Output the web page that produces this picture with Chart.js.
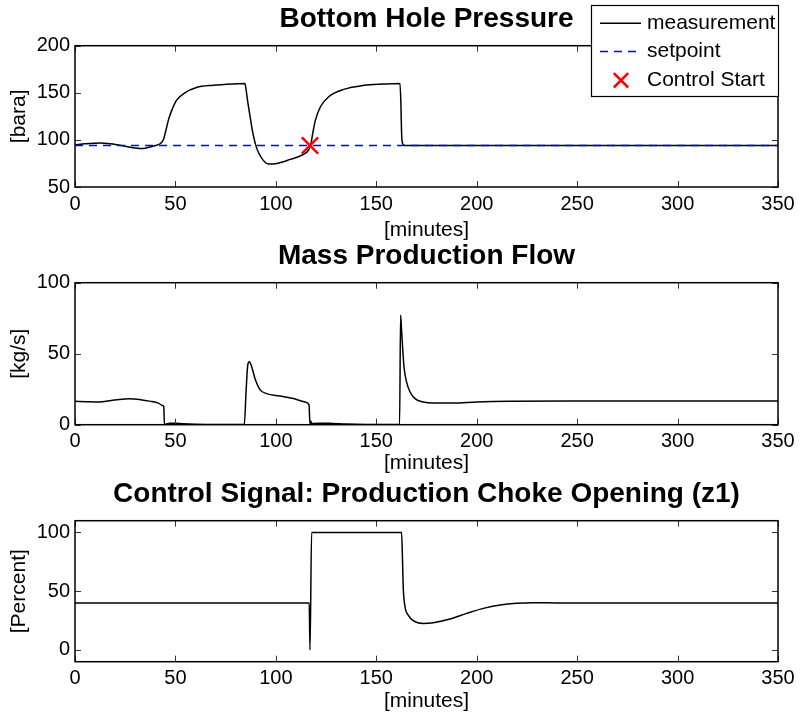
<!DOCTYPE html>
<html>
<head>
<meta charset="utf-8">
<script src="https://cdn.jsdelivr.net/npm/chart.js@4.4.1/dist/chart.umd.min.js"></script>
<style>
  html, body { margin: 0; padding: 0; background: #fff; overflow: hidden; }
  canvas { position: absolute; left: 0; }
</style>
</head>
<body>
<canvas id="pressureChart" width="800" height="243" style="top:0px"></canvas>
<canvas id="flowChart" width="800" height="240" style="top:240px"></canvas>
<canvas id="chokeChart" width="800" height="236" style="top:480px"></canvas>
<script>
// ---- shared axis ticks ----
const minuteTicks = [0, 50, 100, 150, 200, 250, 300, 350];
const pressureTicks = [50, 100, 150, 200];
const flowTicks = [0, 50, 100];
const chokeTicks = [0, 50, 100];

// ---- bottom hole pressure [bara] ----
const pressureTime = [0, 5, 12.4, 17.4, 21, 25.7, 29, 32.4, 35, 37.4, 40, 42.3, 44, 45.3, 46.5, 48.2, 50.6, 54.7, 60.5, 68.8, 78.8, 84.6,
  85, 85.9, 87.2, 88.6, 90.5, 93, 96.4, 100.5, 107.2, 113, 116.3, 117.5, 118.5, 119.7, 122.2, 126.3, 133.8, 143.8, 153.7, 161.8,
  162.3, 162.6, 163.1, 164.3, 200, 350];
const pressure = [94.8, 95.8, 96.6, 95.9, 94.8, 93, 91.6, 90.9, 91.2, 92.4, 94, 95.9, 100.1, 110.5, 121, 131.6, 142.2, 150, 155.6, 158, 159.4, 159.8,
  156, 142, 124.4, 106.7, 91, 80.4, 74.4, 75, 79.3, 83.9, 89.2, 96.3, 108.6, 121, 135.2, 145.8, 153.6, 157.9, 159.3, 160,
  135, 106.7, 96.1, 94, 94.1, 94.1];
const setpointTime = [0, 350];
const setpoint = [94, 94];
const controlStartTime = [117];
const controlStartPressure = [94];

// ---- mass production flow [kg/s] ----
const flowTime = [0, 6, 12, 18, 22, 27, 32, 37, 41.5, 43.6, 44.2, 44.5, 45.2, 47, 50, 54, 60, 70, 84.3,
  85.2, 86, 86.8, 88, 89.6, 92.1, 95.4, 102, 108.7, 114.5, 116.5, 117, 117.4, 117.9, 118.5, 122, 128, 135, 145, 161.6,
  162.1, 162.6, 163.1, 163.8, 165.1, 166.8, 169.3, 173.4, 178.4, 188.3, 200, 216.6, 250, 300, 350];
const flow = [16.5, 16.2, 16.0, 17.0, 17.8, 18.3, 17.8, 16.6, 15.2, 13.5, 12.5, 0.2, 0.4, 1.1, 1.0, 0.6, 0.3, 0.1, 0.1,
  24.3, 41.9, 44.3, 40.7, 32.5, 24.7, 21.9, 20.2, 18.4, 16.0, 14.1, 0.3, 2.5, 0.6, 0.8, 1.1, 0.9, 0.5, 0.2, 0.1,
  77.2, 66, 54.7, 40.6, 30, 23, 18.4, 16, 15.3, 15.3, 16, 16.5, 16.7, 16.7, 16.7];

// ---- production choke opening z1 [%] ----
const chokeTime = [0, 116.6, 117, 117.8, 162, 162.6, 163.1, 163.4, 164.3, 165.9, 168.4, 173.4, 178.4, 186.7, 195, 203.3, 211.6, 219.9, 228.2, 240, 350];
const choke = [40, 40, 0, 100, 100, 100, 73.7, 53.8, 36.8, 29.7, 24.9, 22.6, 23.2, 26.3, 31.1, 35.4, 38.2, 39.7, 40.2, 40, 40];

const FONT = "'Liberation Sans', Arial, Helvetica, sans-serif";
Chart.defaults.font.family = FONT;
Chart.defaults.color = '#000';

const pts = (xs, ys) => xs.map((x, i) => ({ x: x, y: ys[i] }));

// boxed axes with inward ticks on all four sides
const boxFrame = {
  id: 'boxFrame',
  afterDatasetsDraw(chart) {
    const { ctx, chartArea: a, scales: { x, y } } = chart;
    const len = 6;
    ctx.save();
    ctx.strokeStyle = '#333';
    ctx.lineWidth = 1;
    ctx.beginPath();
    x.ticks.forEach(t => {
      const p = Math.round(x.getPixelForValue(t.value)) + 0.5;
      ctx.moveTo(p, a.bottom); ctx.lineTo(p, a.bottom - len);
      ctx.moveTo(p, a.top); ctx.lineTo(p, a.top + len);
    });
    y.ticks.forEach(t => {
      const p = Math.round(y.getPixelForValue(t.value)) + 0.5;
      ctx.moveTo(a.left, p); ctx.lineTo(a.left + len, p);
      ctx.moveTo(a.right, p); ctx.lineTo(a.right - len, p);
    });
    ctx.stroke();
    ctx.strokeStyle = '#000';
    ctx.lineWidth = 1.5;
    ctx.strokeRect(a.left, a.top, a.right - a.left, a.bottom - a.top);
    ctx.restore();
  }
};

// boxed legend in the upper right corner, built from the datasets
const boxLegend = {
  id: 'boxLegend',
  afterDraw(chart) {
    const { ctx, chartArea: a } = chart;
    const w = 188, h = 92;
    const left = a.right + 1 - w, top = 5;
    const rows = [18.3, 46.5, 75.3];
    ctx.save();
    ctx.fillStyle = '#fff';
    ctx.fillRect(left, top, w, h);
    ctx.strokeStyle = '#000';
    ctx.lineWidth = 1.2;
    ctx.strokeRect(left + 0.5, top + 0.5, w - 1, h - 1);
    ctx.font = '21px ' + FONT;
    ctx.textBaseline = 'middle';
    ctx.textAlign = 'left';
    chart.data.datasets.forEach((ds, i) => {
      const yy = top + rows[i];
      if (ds.showLine === false) {
        const cx = left + 30, r = 7.2;
        ctx.strokeStyle = ds.pointBorderColor;
        ctx.lineWidth = ds.pointBorderWidth;
        ctx.setLineDash([]);
        ctx.beginPath();
        ctx.moveTo(cx - r, yy - r); ctx.lineTo(cx + r, yy + r);
        ctx.moveTo(cx - r, yy + r); ctx.lineTo(cx + r, yy - r);
        ctx.stroke();
      } else {
        ctx.strokeStyle = ds.borderColor;
        ctx.lineWidth = ds.borderWidth;
        ctx.setLineDash(ds.borderDash || []);
        ctx.beginPath();
        ctx.moveTo(left + 9, yy); ctx.lineTo(left + 50, yy);
        ctx.stroke();
      }
      ctx.setLineDash([]);
      ctx.fillStyle = '#000';
      ctx.fillText(ds.label, left + 56, yy - 0.5);
    });
    ctx.restore();
  }
};

function panel(id, cfg) {
  return new Chart(document.getElementById(id), {
    type: 'line',
    data: { datasets: cfg.datasets },
    options: {
      responsive: false,
      animation: false,
      events: [],
      layout: { padding: { left: 0, right: 22, top: 0, bottom: 0 } },
      elements: { point: { radius: 0 }, line: { tension: 0, cubicInterpolationMode: 'monotone' } },
      plugins: {
        legend: { display: false },
        tooltip: { enabled: false },
        title: {
          display: true,
          text: cfg.title,
          fullSize: false,
          color: '#000',
          font: { size: 28, weight: 'bold', lineHeight: 1 },
          padding: { top: cfg.titlePad[0], bottom: cfg.titlePad[1] }
        }
      },
      scales: {
        x: {
          type: 'linear',
          min: 0, max: 350,
          grid: { display: false, drawTicks: false },
          border: { display: false },
          afterBuildTicks: s => { s.ticks = minuteTicks.map(v => ({ value: v })); },
          afterFit: s => { s.height = cfg.xHeight; s.paddingLeft = 0; s.paddingRight = 0; },
          ticks: { font: { size: 20 }, padding: 5, maxRotation: 0, autoSkip: false, color: '#000' },
          title: { display: true, text: '[minutes]', font: { size: 21 }, padding: { top: 0, bottom: cfg.xTitlePad }, color: '#000' }
        },
        y: {
          type: 'linear',
          min: cfg.yMin, max: cfg.yMax,
          grid: { display: false, drawTicks: false },
          border: { display: false },
          afterBuildTicks: s => { s.ticks = cfg.yTicks.map(v => ({ value: v })); },
          afterFit: s => { s.width = 75; s.paddingTop = 0; s.paddingBottom = 0; },
          ticks: { font: { size: 20 }, padding: 5, color: '#000' },
          title: { display: true, text: cfg.yLabel, font: { size: 21 }, padding: { top: 7, bottom: 0 }, color: '#000' }
        }
      }
    },
    plugins: cfg.plugins
  });
}

panel('pressureChart', {
  title: 'Bottom Hole Pressure',
  titlePad: [5.5, 12.2],
  xHeight: 56, xTitlePad: 0,
  yMin: 50, yMax: 200, yTicks: pressureTicks, yLabel: '[bara]',
  datasets: [
    { label: 'measurement', data: pts(pressureTime, pressure), borderColor: '#000', borderWidth: 1.5, order: 2 },
    { label: 'setpoint', data: pts(setpointTime, setpoint), borderColor: '#0000ff', borderWidth: 1.6, borderDash: [8, 6], order: 1 },
    { label: 'Control Start', data: pts(controlStartTime, controlStartPressure), showLine: false,
      pointStyle: 'crossRot', pointRadius: 11.5, pointBorderColor: '#ff0000', pointBorderWidth: 2.5,
      borderColor: '#ff0000', order: 0 }
  ],
  plugins: [boxFrame, boxLegend]
});

panel('flowChart', {
  title: 'Mass Production Flow',
  titlePad: [1.8, 12.9],
  xHeight: 55.3, xTitlePad: 4.5,
  yMin: 0, yMax: 100, yTicks: flowTicks, yLabel: '[kg/s]',
  datasets: [
    { label: 'flow', data: pts(flowTime, flow), borderColor: '#000', borderWidth: 1.5 }
  ],
  plugins: [boxFrame]
});

panel('chokeChart', {
  title: 'Control Signal: Production Choke Opening (z1)',
  titlePad: [0.5, 12.2],
  xHeight: 54.3, xTitlePad: 2.2,
  yMin: -10, yMax: 110, yTicks: chokeTicks, yLabel: '[Percent]',
  datasets: [
    { label: 'z1', data: pts(chokeTime, choke), borderColor: '#000', borderWidth: 1.5 }
  ],
  plugins: [boxFrame]
});
</script>
</body>
</html>
